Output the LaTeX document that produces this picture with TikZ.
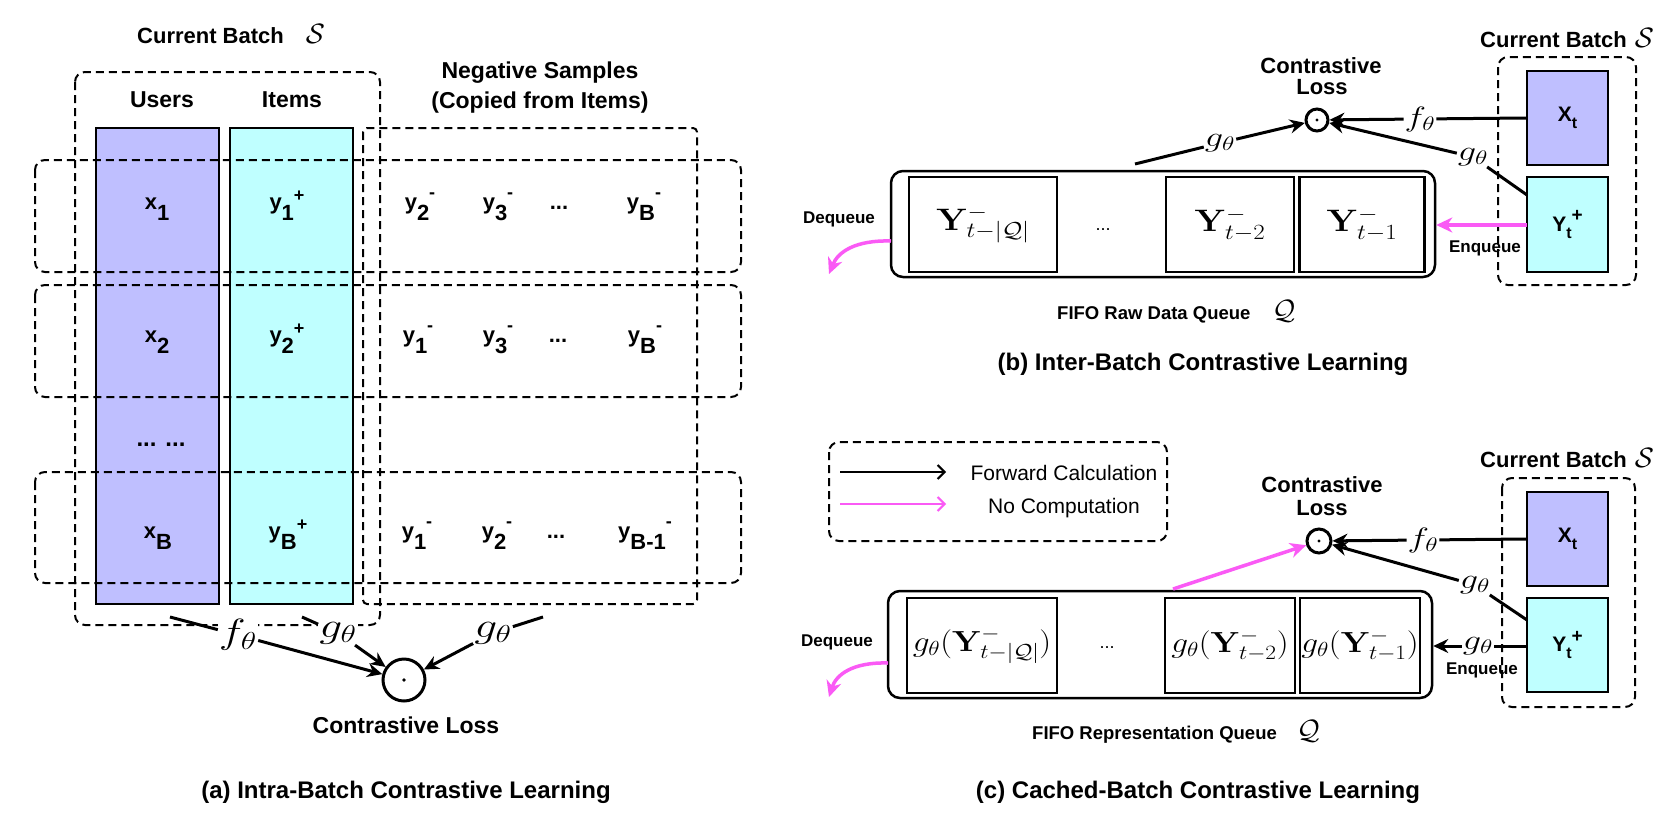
\RequirePackage{fix-cm}
\documentclass[tikz,border=0pt]{standalone}
\usepackage[no-math]{fontspec}
\usepackage{graphicx}
\setmainfont{Liberation Sans}
\usetikzlibrary{arrows.meta}
\definecolor{lav}{RGB}{191,191,255}
\definecolor{cyn}{RGB}{191,255,255}
\definecolor{mag}{RGB}{250,90,245}
\newcommand{\fsz}[1]{\fontsize{#1}{#1}\selectfont}
\newcommand{\subl}[1]{\raisebox{-0.5em}{#1}}
\newcommand{\plusl}{\raisebox{0.32em}{\fsz{18}+}}
\newcommand{\minusl}{\raisebox{0.5em}{\fsz{18}-}}
\newcommand{\xlab}{{\fsz{21}\bfseries X\raisebox{-0.35em}{\fsz{16}t}}}
\newcommand{\ylab}{{\fsz{21}\bfseries Y\raisebox{-0.35em}{\fsz{16}t}\raisebox{0.45em}{\fsz{19}+}}}
\newcommand{\wide}[1]{\scalebox{1.3}[1]{#1}}
\newcommand{\wbox}[1]{\scalebox{1.15}[1]{#1}}
\begin{document}
\begin{tikzpicture}[x=1pt,y=-1pt,
  dbox/.style={dash pattern=on 8pt off 5pt, line width=2pt, rounded corners=10pt},
  sbox/.style={draw, line width=2.5pt, inner sep=0pt},
  lbl/.style={font=\fsz{23}\bfseries, anchor=base, inner sep=0pt},
  smalll/.style={font=\fsz{17}\bfseries, anchor=base, inner sep=0pt},
  cell/.style={font=\fsz{22}\bfseries, anchor=base, inner sep=0pt},
  captxt/.style={font=\fsz{24}\bfseries, anchor=base, inner sep=0pt},
  ma/.style={font=\fsz{35}, fill=white, inner sep=1pt},
  mb/.style={font=\fsz{28}, fill=white, inner sep=1pt},
  ln/.style={line width=3pt},
  arr/.style={line width=3pt, -{Stealth[length=15pt,width=14pt,inset=5pt]}},
  marr/.style={draw=mag, line width=3.5pt, -{Stealth[length=16pt,width=15pt,inset=5pt]}},
  legarr/.style={line width=2pt, -{Straight Barb[length=7pt,width=14pt,line width=2pt]}},
  dotc/.style={circle, draw, line width=3pt, inner sep=0pt},
]
\fill[white] (0,0) rectangle (1674,828);
\useasboundingbox (0,0) rectangle (1674,828);

% ================= (a) =================
\node[sbox, line width=2pt, fill=lav, minimum width=123pt, minimum height=476pt] (users) at (157.5,366) {};
\node[sbox, line width=2pt, fill=cyn, minimum width=123pt, minimum height=476pt] (items) at (291.5,366) {};
\draw[dbox] (75,72) rectangle (380,625);
\draw[dbox, rounded corners=4pt] (363,128) rectangle (697,604);
\draw[dbox] (35,160) rectangle (741,272);
\draw[dbox] (35,285) rectangle (741,397);
\draw[dbox] (35,472) rectangle (741,583);

\node[lbl, font=\fsz{22}\bfseries, anchor=base west] (cbA) at (137,43) {Current Batch\hspace{22pt}{\fsz{28}$\mathcal{S}$}};
\node[lbl] (usersl) at (162,107) {Users};
\node[lbl] (itemsl) at (292,107) {Items};
\node[lbl] (negl1) at (540,78) {Negative Samples};
\node[lbl] (negl2) at (540,108) {(Copied from Items)};

% row 1
\node[cell] (r1a) at (157,209) {x\subl{1}};
\node[cell] (r1b) at (287,209) {y\subl{1}\plusl};
\node[cell] (r1c) at (420,209) {y\subl{2}\minusl};
\node[cell] (r1d) at (498,209) {y\subl{3}\minusl};
\node[cell] (r1e) at (559,209) {...};
\node[cell] (r1f) at (644,209) {y\subl{B}\minusl};
% row 2
\node[cell] (r2a) at (157,342) {x\subl{2}};
\node[cell] (r2b) at (287,342) {y\subl{2}\plusl};
\node[cell] (r2c) at (418,342) {y\subl{1}\minusl};
\node[cell] (r2d) at (498,342) {y\subl{3}\minusl};
\node[cell] (r2e) at (558,342) {...};
\node[cell] (r2f) at (645,342) {y\subl{B}\minusl};
% dots
\node[cell, font=\fsz{24}\bfseries] (r0) at (161,446) {... ...};
% row 3
\node[cell] (r3a) at (158,538) {x\subl{B}};
\node[cell] (r3b) at (288,538) {y\subl{B}\plusl};
\node[cell] (r3c) at (417,538) {y\subl{1}\minusl};
\node[cell] (r3d) at (497,538) {y\subl{2}\minusl};
\node[cell] (r3e) at (556,538) {...};
\node[cell] (r3f) at (645,538) {y\subl{B-1}\minusl};

\node[dotc, minimum size=42pt] (ca) at (404,680) {};
\fill (ca.center) circle (1.8pt);
\coordinate (sa1) at (170,617);
\coordinate (sa2) at (302,617);
\coordinate (sa3) at (543,617);
\node[ma] (fa) at (238,635) {\wide{$f_\theta$}};
\node[ma] (ga1) at (338,633) {\wide{$g_\theta$}};
\node[ma] (ga2) at (493,633) {\wide{$g_\theta$}};
\draw[ln] (sa1) -- (fa);
\draw[arr] (fa) -- (ca);
\draw[ln] (sa2) -- (ga1);
\draw[arr] (ga1) -- (ca);
\draw[ln] (sa3) -- (ga2);
\draw[arr] (ga2) -- (ca);
\node[lbl] (cla) at (406,733) {Contrastive Loss};
\node[captxt] (capa) at (406,798) {(a) Intra-Batch Contrastive Learning};

% ================= (b) =================
\node[sbox, minimum width=544pt, minimum height=106pt, rounded corners=12pt] (qb) at (1163,224) {};
\node[sbox, minimum width=148pt, minimum height=95pt, font=\fsz{31}] (qb1) at (983,224.5) {\wbox{$\mathbf{Y}^-_{t-|\mathcal{Q}|}$}};
\node[sbox, minimum width=128pt, minimum height=95pt, font=\fsz{31}] (qb2) at (1230,224.5) {\wbox{$\mathbf{Y}^-_{t-2}$}};
\node[sbox, minimum width=125pt, minimum height=95pt, font=\fsz{31}] (qb3) at (1362,224.5) {\wbox{$\mathbf{Y}^-_{t-1}$}};
\node[font=\fsz{18}, anchor=base, inner sep=0pt] (qbd) at (1103,230) {...};

\draw[dbox] (1498,57) rectangle (1636,285);
\node[sbox, fill=lav, minimum width=81pt, minimum height=94pt] (xtb) at (1567.5,118) {\xlab};
\node[sbox, fill=cyn, minimum width=81pt, minimum height=95pt] (ytb) at (1567.5,224.5) {\ylab};
\node[lbl, font=\fsz{22}\bfseries, anchor=base west] (cbB) at (1480,47) {Current Batch\hspace{8pt}{\fsz{28}$\mathcal{S}$}};
\node[lbl, font=\fsz{22}\bfseries] (clb1) at (1321,73) {Contrastive};
\node[lbl, font=\fsz{22}\bfseries] (clb2) at (1322,94) {Loss};
\node[dotc, minimum size=22pt] (cb) at (1317,120) {};
\fill (cb.center) circle (1.6pt);

\node[mb] (fb) at (1420,119) {\wide{$f_\theta$}};
\draw[ln] (xtb.west) -- (fb);
\draw[arr] (fb) -- (cb);
\coordinate (gbs) at (1527,195);
\node[mb] (gb1) at (1473,157) {\wide{$g_\theta$}};
\draw[ln] (gbs) -- (gb1);
\draw[arr] (gb1) -- (cb);
\coordinate (gbs2) at (1135,164);
\node[mb] (gb2) at (1220,143) {\wide{$g_\theta$}};
\draw[ln] (gbs2) -- (gb2);
\draw[arr] (gb2) -- (cb);

\coordinate (enqb) at (1527,225);
\draw[marr] (enqb) -- (qb.east |- enqb);
\node[smalll] (enqlb) at (1485,252) {Enqueue};
\node[smalll] (deqlb) at (839,223) {Dequeue};
\coordinate (deqb) at (891,241);
\coordinate (deqbe) at (829,274);
\draw[marr] (deqb) .. controls (855,240) and (838,252) .. (deqbe);

\node[font=\fsz{18.5}\bfseries, anchor=base west, inner sep=0pt] (fifob) at (1057,319) {FIFO Raw Data Queue\hspace{22pt}{\fsz{28}$\mathcal{Q}$}};
\node[captxt] (capb) at (1203,370) {(b) Inter-Batch Contrastive Learning};

% ================= (c) =================
\draw[dbox] (829,442) rectangle (1167,541);
\coordinate (l1s) at (840,472);
\coordinate (l1e) at (946,472);
\draw[legarr] (l1s) -- (l1e);
\node[font=\fsz{21}, anchor=base, inner sep=0pt] (l1t) at (1064,480) {Forward Calculation};
\coordinate (l2s) at (840,504);
\coordinate (l2e) at (946,504);
\draw[legarr, draw=mag] (l2s) -- (l2e);
\node[font=\fsz{21}, anchor=base, inner sep=0pt] (l2t) at (1064,513) {No Computation};

\node[sbox, minimum width=544pt, minimum height=107pt, rounded corners=12pt] (qc) at (1160,644.5) {};
\node[sbox, minimum width=150pt, minimum height=95pt, font=\fsz{29}] (qc1) at (982,645.5) {\wbox{$g_\theta(\mathbf{Y}^-_{t-|\mathcal{Q}|})$}};
\node[sbox, minimum width=130pt, minimum height=95pt, font=\fsz{29}] (qc2) at (1230,645.5) {\wbox{$g_\theta(\mathbf{Y}^-_{t-2})$}};
\node[sbox, minimum width=120pt, minimum height=95pt, font=\fsz{29}] (qc3) at (1360,645.5) {\wbox{$g_\theta(\mathbf{Y}^-_{t-1})$}};
\node[font=\fsz{18}, anchor=base, inner sep=0pt] (qcd) at (1107,648) {...};

\draw[dbox] (1502,478) rectangle (1635,707);
\node[sbox, fill=lav, minimum width=81pt, minimum height=94pt] (xtc) at (1567.5,539) {\xlab};
\node[sbox, fill=cyn, minimum width=81pt, minimum height=94pt] (ytc) at (1567.5,645) {\ylab};
\node[lbl, font=\fsz{22}\bfseries, anchor=base west] (cbC) at (1480,467) {Current Batch\hspace{8pt}{\fsz{28}$\mathcal{S}$}};
\node[lbl, font=\fsz{22}\bfseries] (clc1) at (1322,492) {Contrastive};
\node[lbl, font=\fsz{22}\bfseries] (clc2) at (1322,515) {Loss};
\node[dotc, minimum size=24pt] (cc) at (1319,541) {};
\fill (cc.center) circle (1.6pt);

\node[mb] (fc) at (1423,540) {\wide{$f_\theta$}};
\draw[ln] (xtc.west) -- (fc);
\draw[arr] (fc) -- (cc);
\coordinate (gcs) at (1527,620);
\node[mb] (gc1) at (1475,585) {\wide{$g_\theta$}};
\draw[ln] (gcs) -- (gc1);
\draw[arr] (gc1) -- (cc);
\coordinate (mcs) at (1173,589);
\draw[marr] (mcs) -- (cc);

\coordinate (enqc) at (1527,646);
\node[mb] (gc2) at (1478,646) {\wide{$g_\theta$}};
\draw[ln] (enqc) -- (gc2);
\draw[arr] (gc2) -- (qc.east |- gc2);
\node[smalll] (enqlc) at (1482,674) {Enqueue};
\node[smalll] (deqlc) at (837,646) {Dequeue};
\coordinate (deqc) at (888,663);
\coordinate (deqce) at (829,697);
\draw[marr] (deqc) .. controls (852,662) and (836,675) .. (deqce);

\node[font=\fsz{18.5}\bfseries, anchor=base west, inner sep=0pt] (fifoc) at (1032,739) {FIFO Representation Queue\hspace{20pt}{\fsz{28}$\mathcal{Q}$}};
\node[captxt] (capc) at (1198,798) {(c) Cached-Batch Contrastive Learning};
\end{tikzpicture}
\end{document}
